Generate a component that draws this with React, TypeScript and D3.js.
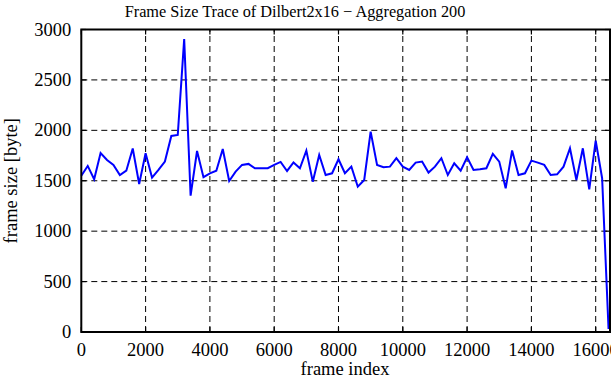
import React, { useEffect, useRef } from "react";
import * as d3 from "d3";

// frame index of each aggregated sample (every 200 frames)
const frameIdx = [
  0, 200, 400, 600, 800, 1000, 1200, 1400, 1600, 1800, 2000, 2200, 2400, 2600, 2800, 3000,
  3200, 3400, 3600, 3800, 4000, 4200, 4400, 4600, 4800, 5000, 5200, 5400, 5600, 5800, 6000,
  6200, 6400, 6600, 6800, 7000, 7200, 7400, 7600, 7800, 8000, 8200, 8400, 8600, 8800, 9000,
  9200, 9400, 9600, 9800, 10000, 10200, 10400, 10600, 10800, 11000, 11200, 11400, 11600,
  11800, 12000, 12200, 12400, 12600, 12800, 13000, 13200, 13400, 13600, 13800, 14000, 14200,
  14400, 14600, 14800, 15000, 15200, 15400, 15600, 15800, 16000, 16200, 16400,
];
// frame size in byte
const frameSize = [
  1550, 1647, 1515, 1775, 1706, 1657, 1557, 1600, 1820, 1468, 1773, 1531, 1607, 1690, 1944, 1954,
  2905, 1352, 1795, 1535, 1574, 1600, 1815, 1498, 1590, 1657, 1667, 1624, 1624, 1624, 1657,
  1687, 1597, 1682, 1624, 1799, 1491, 1756, 1557, 1574, 1713, 1574, 1640, 1441, 1508, 1987,
  1657, 1634, 1640, 1723, 1640, 1607, 1680, 1690, 1581, 1640, 1723, 1557, 1673,
  1600, 1733, 1607, 1613, 1624, 1766, 1690, 1425, 1800, 1557, 1574, 1700, 1680,
  1657, 1557, 1564, 1640, 1822, 1508, 1822, 1415, 1898, 1525, 30,
];
const xTicks = [0, 2000, 4000, 6000, 8000, 10000, 12000, 14000, 16000];
const yTicks = [0, 500, 1000, 1500, 2000, 2500, 3000];

const W = 611;
const H = 380;
const margin = { top: 29.5, right: 1, bottom: 48, left: 81.3 };
const font = "'Liberation Serif', 'DejaVu Serif', serif";

export default function App() {
  const ref = useRef<SVGSVGElement>(null);

  useEffect(() => {
    const svg = d3.select(ref.current);
    svg.selectAll("*").remove();

    const x = d3.scaleLinear().domain([0, 16445]).range([margin.left, W - margin.right]);
    const y = d3.scaleLinear().domain([0, 3000]).range([H - margin.bottom, margin.top]);
    const x0 = x.range()[0], x1 = x.range()[1];
    const y0 = y.range()[0], y1 = y.range()[1];

    // grid
    svg.append("g")
      .selectAll("line")
      .data(xTicks.slice(1))
      .join("line")
      .attr("x1", (d) => x(d)).attr("x2", (d) => x(d))
      .attr("y1", y0).attr("y2", y1)
      .attr("stroke", "#000").attr("stroke-width", 1).attr("stroke-dasharray", "6,4");
    svg.append("g")
      .selectAll("line")
      .data(yTicks.slice(1, -1))
      .join("line")
      .attr("x1", x0).attr("x2", x1)
      .attr("y1", (d) => y(d)).attr("y2", (d) => y(d))
      .attr("stroke", "#000").attr("stroke-width", 1).attr("stroke-dasharray", "6,4");

    // inner tick marks on all four sides
    const tk = 5;
    const tg = svg.append("g").attr("stroke", "#000").attr("stroke-width", 1.2);
    xTicks.forEach((d) => {
      tg.append("line").attr("x1", x(d)).attr("x2", x(d)).attr("y1", y0).attr("y2", y0 - tk);
      tg.append("line").attr("x1", x(d)).attr("x2", x(d)).attr("y1", y1).attr("y2", y1 + tk);
    });
    yTicks.forEach((d) => {
      tg.append("line").attr("x1", x0).attr("x2", x0 + tk).attr("y1", y(d)).attr("y2", y(d));
      tg.append("line").attr("x1", x1).attr("x2", x1 - tk).attr("y1", y(d)).attr("y2", y(d));
    });

    // data line
    const line = d3.line<number>()
      .x((_, i) => x(frameIdx[i]))
      .y((d) => y(d));
    svg.append("path")
      .datum(frameSize)
      .attr("d", line)
      .attr("fill", "none")
      .attr("stroke", "#0000ff")
      .attr("stroke-width", 2)
      .attr("stroke-linejoin", "miter");

    // frame
    svg.append("rect")
      .attr("x", x0).attr("y", y1)
      .attr("width", x1 - x0).attr("height", y0 - y1)
      .attr("fill", "none").attr("stroke", "#000").attr("stroke-width", 2);

    // tick labels
    svg.append("g")
      .selectAll("text")
      .data(xTicks)
      .join("text")
      .attr("x", (d) => x(d)).attr("y", y0 + 24)
      .attr("text-anchor", "middle")
      .attr("font-family", font).attr("font-size", 18.5)
      .text((d) => d);
    svg.append("g")
      .selectAll("text")
      .data(yTicks)
      .join("text")
      .attr("x", x0 - 10).attr("y", (d) => y(d) + 6)
      .attr("text-anchor", "end")
      .attr("font-family", font).attr("font-size", 18.5)
      .text((d) => d);

    // titles
    svg.append("text")
      .attr("x", 295).attr("y", 17)
      .attr("text-anchor", "middle")
      .attr("font-family", font).attr("font-size", 16.3)
      .text("Frame Size Trace of Dilbert2x16 \u2212 Aggregation 200");
    svg.append("text")
      .attr("x", 345).attr("y", 375)
      .attr("text-anchor", "middle")
      .attr("font-family", font).attr("font-size", 18.5)
      .text("frame index");
    svg.append("text")
      .attr("transform", `translate(17,${(y0 + y1) / 2}) rotate(-90)`)
      .attr("text-anchor", "middle")
      .attr("font-family", font).attr("font-size", 18.5)
      .text("frame size [byte]");
  }, []);

  return (
    <svg
      ref={ref}
      width={W}
      height={H}
      style={{ position: "absolute", left: 0, top: 0, background: "#fff" }}
    />
  );
}
